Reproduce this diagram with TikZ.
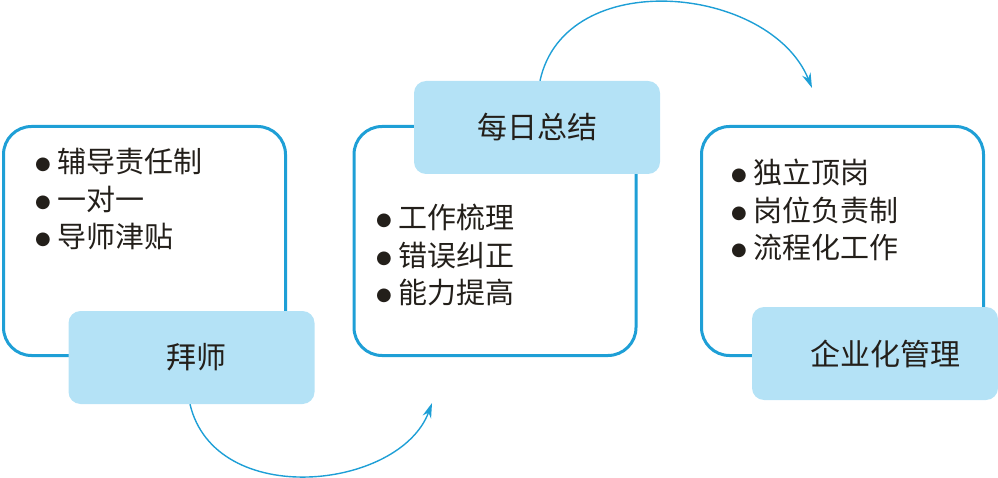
\documentclass[tikz,border=0pt]{standalone}
\usepackage{fontspec}
\setmainfont{Noto Sans CJK SC}
\newfontfamily\symfam{DejaVu Sans}
\usetikzlibrary{arrows.meta}
\definecolor{edgeblue}{HTML}{1E9FD6}
\definecolor{fillblue}{HTML}{B4E2F6}
\definecolor{inkc}{HTML}{231F1A}
\newcommand\bulletmark{{\symfam\fontsize{18}{18}\selectfont\raisebox{3pt}{●}}\hspace{7pt}}
\begin{document}
\begin{tikzpicture}[x=1pt,y=-1pt,
 frame/.style={draw=edgeblue, line width=3pt, rounded corners=28pt, minimum width=282pt, minimum height=229pt, inner sep=0pt},
 tag/.style={fill=fillblue, rounded corners=12pt, minimum width=246pt, minimum height=93pt, inner sep=0pt, text=inkc, font=\fontsize{30}{36}\selectfont},
 items/.style={anchor=west, align=left, text=inkc, inner sep=0pt, font=\fontsize{29}{37.5}\selectfont},
 flow/.style={draw=edgeblue, line width=1.4pt, -{Stealth[length=15pt,width=9pt]}}]
\useasboundingbox (0,0) rectangle (998,478);
% outline boxes
\node[frame] (b1) at (144.5,241) {};
\node[frame] (b2) at (495,241) {};
\node[frame] (b3) at (842.5,241) {};
% lists
\node[items] (l1) at (35,199) {\bulletmark 辅导责任制\\\bulletmark 一对一\\\bulletmark 导师津贴};
\node[items] (l2) at (376,255) {\bulletmark 工作梳理\\\bulletmark 错误纠正\\\bulletmark 能力提高};
\node[items] (l3) at (731,210) {\bulletmark 独立顶岗\\\bulletmark 岗位负责制\\\bulletmark 流程化工作};
% labels
\node[tag] (t1) at (191.5,357.5) {\hspace*{10pt}拜师};
\node[tag] (t2) at (537,127.5) {每日总结};
\node[tag] (t3) at (875,353.5) {\hspace*{20pt}企业化管理};
% arrows
\coordinate (e1) at (812,88);
\coordinate (e2) at (432,403);
\draw[flow] ([xshift=3pt]t2.north) .. controls (565,-35) and (770,-15) .. (e1);
\draw[flow] ([xshift=-1.5pt]t1.south) .. controls (215,510) and (400,490) .. (e2);
\end{tikzpicture}
\end{document}
